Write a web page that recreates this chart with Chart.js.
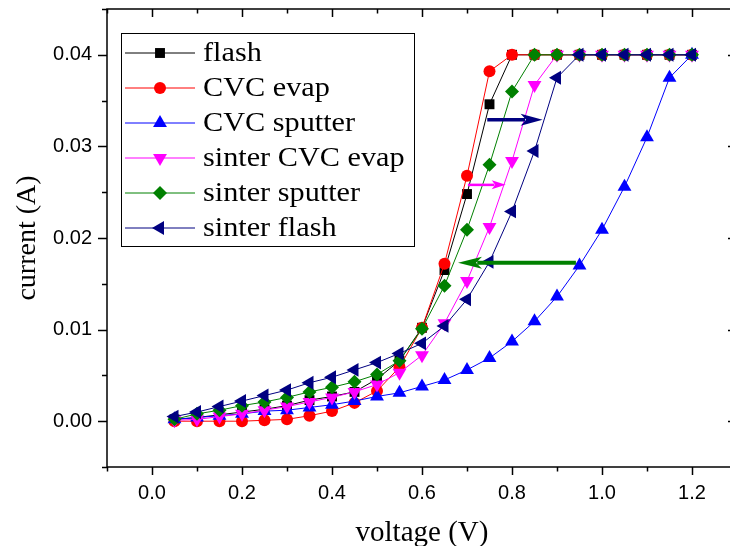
<!DOCTYPE html>
<html>
<head>
<meta charset="utf-8">
<script src="https://cdn.jsdelivr.net/npm/chart.js@4.4.0/dist/chart.umd.min.js"></script>
<style>
  html, body { margin: 0; padding: 0; overflow: hidden; background: #fff; }
  canvas { display: block; }
</style>
</head>
<body>
<canvas id="myChart" width="745" height="546"></canvas>
<script>
// voltage steps (V)
const voltage = [0.05, 0.1, 0.15, 0.2, 0.25, 0.3, 0.35, 0.4, 0.45, 0.5, 0.55, 0.6,
                 0.65, 0.7, 0.75, 0.8, 0.85, 0.9, 0.95, 1.0, 1.05, 1.1, 1.15, 1.2];

// current (A)
const flash = [0.0002, 0.0004, 0.0007, 0.0010, 0.0013, 0.0017, 0.0023, 0.0027, 0.0032, 0.0046, 0.0066, 0.0102,
               0.0165, 0.0248, 0.0346, 0.04, 0.04, 0.04, 0.04, 0.04, 0.04, 0.04, 0.04, 0.04];
const cvcEvap = [0.0000, 0.0000, 0.0000, 0.0000, 0.0001, 0.0002, 0.0006, 0.0011, 0.0020, 0.0033, 0.0059, 0.0102,
                 0.0172, 0.0268, 0.0382, 0.04, 0.04, 0.04, 0.04, 0.04, 0.04, 0.04, 0.04, 0.04];
const cvcSputter = [0.0002, 0.0004, 0.0006, 0.0008, 0.0011, 0.0012, 0.0015, 0.0018, 0.0022, 0.0027, 0.0031, 0.0038,
                    0.0045, 0.0056, 0.0069, 0.0087, 0.0109, 0.0136, 0.0170, 0.0209, 0.0256, 0.0310, 0.0375, 0.04];
const sinterCvcEvap = [0.0001, 0.0002, 0.0005, 0.0008, 0.0012, 0.0016, 0.0021, 0.0026, 0.0032, 0.0040, 0.0053, 0.0072,
                       0.0107, 0.0153, 0.0212, 0.0284, 0.0367, 0.04, 0.04, 0.04, 0.04, 0.04, 0.04, 0.04];
const sinterSputter = [0.0002, 0.0008, 0.0012, 0.0017, 0.0021, 0.0026, 0.0032, 0.0037, 0.0043, 0.0051, 0.0066, 0.0101,
                       0.0148, 0.0209, 0.0280, 0.0360, 0.04, 0.04, 0.04, 0.04, 0.04, 0.04, 0.04, 0.04];
const sinterFlash = [0.0005, 0.0010, 0.0016, 0.0022, 0.0028, 0.0034, 0.0042, 0.0048, 0.0056, 0.0064, 0.0074, 0.0085,
                     0.0104, 0.0133, 0.0174, 0.0229, 0.0295, 0.0375, 0.04, 0.04, 0.04, 0.04, 0.04, 0.04];

const seriesNames = ['flash', 'CVC evap', 'CVC sputter', 'sinter CVC evap', 'sinter sputter', 'sinter flash'];

// annotation arrows: start voltage, end voltage, current level
const arrowFrom = [0.745, 0.702, 0.942];
const arrowTo = [0.868, 0.786, 0.680];
const arrowAt = [0.0329, 0.0258, 0.0173];

const xTicks = [0.0, 0.2, 0.4, 0.6, 0.8, 1.0, 1.2];
const yTicks = [0.00, 0.01, 0.02, 0.03, 0.04];

const seriesValues = [flash, cvcEvap, cvcSputter, sinterCvcEvap, sinterSputter, sinterFlash];
const styles = [
  { color: '#000000', pointStyle: 'rect', radius: 7, rotation: 0 },
  { color: '#ff0000', pointStyle: 'circle', radius: 6, rotation: 0 },
  { color: '#0000ff', pointStyle: 'triangle', radius: 8, rotation: 0 },
  { color: '#ff00ff', pointStyle: 'triangle', radius: 8, rotation: 180 },
  { color: '#008000', pointStyle: 'rectRot', radius: 7, rotation: 0 },
  { color: '#000080', pointStyle: 'triangle', radius: 8, rotation: -90 }
];
const arrowStyles = [
  { color: '#000080', width: 3.5, head: 22, half: 6 },
  { color: '#ff00ff', width: 2.5, head: 14, half: 4.5 },
  { color: '#008000', width: 4, head: 24, half: 6 }
];

const datasets = seriesNames.map((name, i) => ({
  label: name,
  data: voltage.map((v, j) => ({ x: v, y: seriesValues[i][j] })),
  borderColor: styles[i].color,
  backgroundColor: styles[i].color,
  borderWidth: 1,
  pointStyle: styles[i].pointStyle,
  pointRadius: styles[i].radius,
  pointRotation: styles[i].rotation,
  pointBackgroundColor: styles[i].color,
  pointBorderWidth: 0,
  order: seriesNames.length - i
}));

// box frame with Origin-like ticks
const framePlugin = {
  id: 'frame',
  afterDraw(chart) {
    const { ctx, chartArea: a, scales: { x, y } } = chart;
    ctx.save();
    ctx.strokeStyle = '#000';
    ctx.lineWidth = 1.5;
    ctx.strokeRect(a.left, a.top, a.right - a.left, a.bottom - a.top);
    ctx.beginPath();
    for (let k = -1; k <= 13; k++) {
      const px = Math.round(x.getPixelForValue(k / 10)) + 0.5;
      const len = k % 2 === 0 ? 8 : 4.5;
      ctx.moveTo(px, a.bottom); ctx.lineTo(px, a.bottom + len);
      ctx.moveTo(px, a.top); ctx.lineTo(px, a.top + len);
    }
    for (let k = -1; k <= 9; k++) {
      const py = Math.round(y.getPixelForValue(k * 0.005)) + 0.5;
      const len = k % 2 === 0 ? 9 : 5;
      ctx.moveTo(a.left, py); ctx.lineTo(a.left - len, py);
      ctx.moveTo(a.right, py); ctx.lineTo(a.right - len, py);
    }
    ctx.stroke();
    ctx.restore();
  }
};

const arrowPlugin = {
  id: 'arrows',
  afterDatasetsDraw(chart) {
    const { ctx, scales: { x, y } } = chart;
    ctx.save();
    arrowFrom.forEach((from, i) => {
      const s = arrowStyles[i];
      const x0 = x.getPixelForValue(from);
      const x1 = x.getPixelForValue(arrowTo[i]);
      const py = y.getPixelForValue(arrowAt[i]);
      const dir = x1 > x0 ? 1 : -1;
      ctx.strokeStyle = s.color;
      ctx.fillStyle = s.color;
      ctx.lineWidth = s.width;
      ctx.beginPath();
      ctx.moveTo(x0, py);
      ctx.lineTo(x1 - dir * s.head * 0.8, py);
      ctx.stroke();
      ctx.beginPath();
      ctx.moveTo(x1, py);
      ctx.lineTo(x1 - dir * s.head, py - s.half);
      ctx.lineTo(x1 - dir * s.head * 0.75, py);
      ctx.lineTo(x1 - dir * s.head, py + s.half);
      ctx.closePath();
      ctx.fill();
    });
    ctx.restore();
  }
};

const legendPlugin = {
  id: 'boxLegend',
  afterDraw(chart) {
    const { ctx } = chart;
    ctx.save();
    ctx.strokeStyle = '#000';
    ctx.lineWidth = 1;
    ctx.strokeRect(121.5, 33.5, 293, 213);
    chart.data.datasets.forEach((ds, i) => {
      const cy = 53 + i * 35;
      ctx.strokeStyle = ds.borderColor;
      ctx.lineWidth = 1;
      ctx.beginPath();
      ctx.moveTo(125, cy); ctx.lineTo(195, cy);
      ctx.stroke();
      ctx.fillStyle = ds.pointBackgroundColor;
      Chart.helpers.drawPoint(ctx, {
        pointStyle: ds.pointStyle, radius: ds.pointRadius,
        rotation: ds.pointRotation, borderWidth: 0
      }, 160, cy);
      ctx.fillStyle = '#000';
      ctx.font = '28px "Liberation Serif", "Times New Roman", serif';
      ctx.textBaseline = 'middle';
      ctx.textAlign = 'left';
      ctx.save();
      ctx.translate(203, cy + 1);
      ctx.scale(1.08, 1);
      ctx.fillText(ds.label, 0, 0);
      ctx.restore();
    });
    ctx.restore();
  }
};

const ctx = document.getElementById('myChart').getContext('2d');
new Chart(ctx, {
  type: 'line',
  data: { datasets: datasets },
  options: {
    responsive: false,
    animation: false,
    layout: { padding: { top: 9, right: 8, left: 0, bottom: 0 } },
    plugins: { legend: { display: false }, tooltip: { enabled: false } },
    scales: {
      x: {
        type: 'linear',
        min: -0.1,
        max: 1.3,
        afterBuildTicks: scale => { scale.ticks = xTicks.map(v => ({ value: v })); },
        afterFit: scale => {
          scale.height = 79;
          scale.paddingLeft = 0; scale.paddingRight = 0;
          scale.paddingTop = 0; scale.paddingBottom = 0;
        },
        grid: { display: false, drawTicks: false },
        border: { display: false },
        ticks: {
          padding: 14,
          color: '#000',
          font: { family: '"Liberation Sans", Arial, sans-serif', size: 20 },
          callback: v => v.toFixed(1)
        },
        title: {
          display: true,
          text: 'voltage (V)',
          color: '#000',
          padding: { top: 0, bottom: 0 },
          font: { family: '"Liberation Serif", "Times New Roman", serif', size: 29, lineHeight: 0.9 }
        }
      },
      y: {
        min: -0.005,
        max: 0.045,
        afterBuildTicks: scale => { scale.ticks = yTicks.map(v => ({ value: v })); },
        afterFit: scale => {
          scale.width = 107;
          scale.paddingLeft = 0; scale.paddingRight = 0;
          scale.paddingTop = 0; scale.paddingBottom = 0;
        },
        grid: { display: false, drawTicks: false },
        border: { display: false },
        ticks: {
          padding: 15,
          color: '#000',
          font: { family: '"Liberation Sans", Arial, sans-serif', size: 20 },
          callback: v => v.toFixed(2)
        },
        title: {
          display: true,
          text: 'current (A)',
          color: '#000',
          padding: { top: 11, bottom: 0 },
          font: { family: '"Liberation Serif", "Times New Roman", serif', size: 28 }
        }
      }
    }
  },
  plugins: [framePlugin, arrowPlugin, legendPlugin]
});
</script>
</body>
</html>
